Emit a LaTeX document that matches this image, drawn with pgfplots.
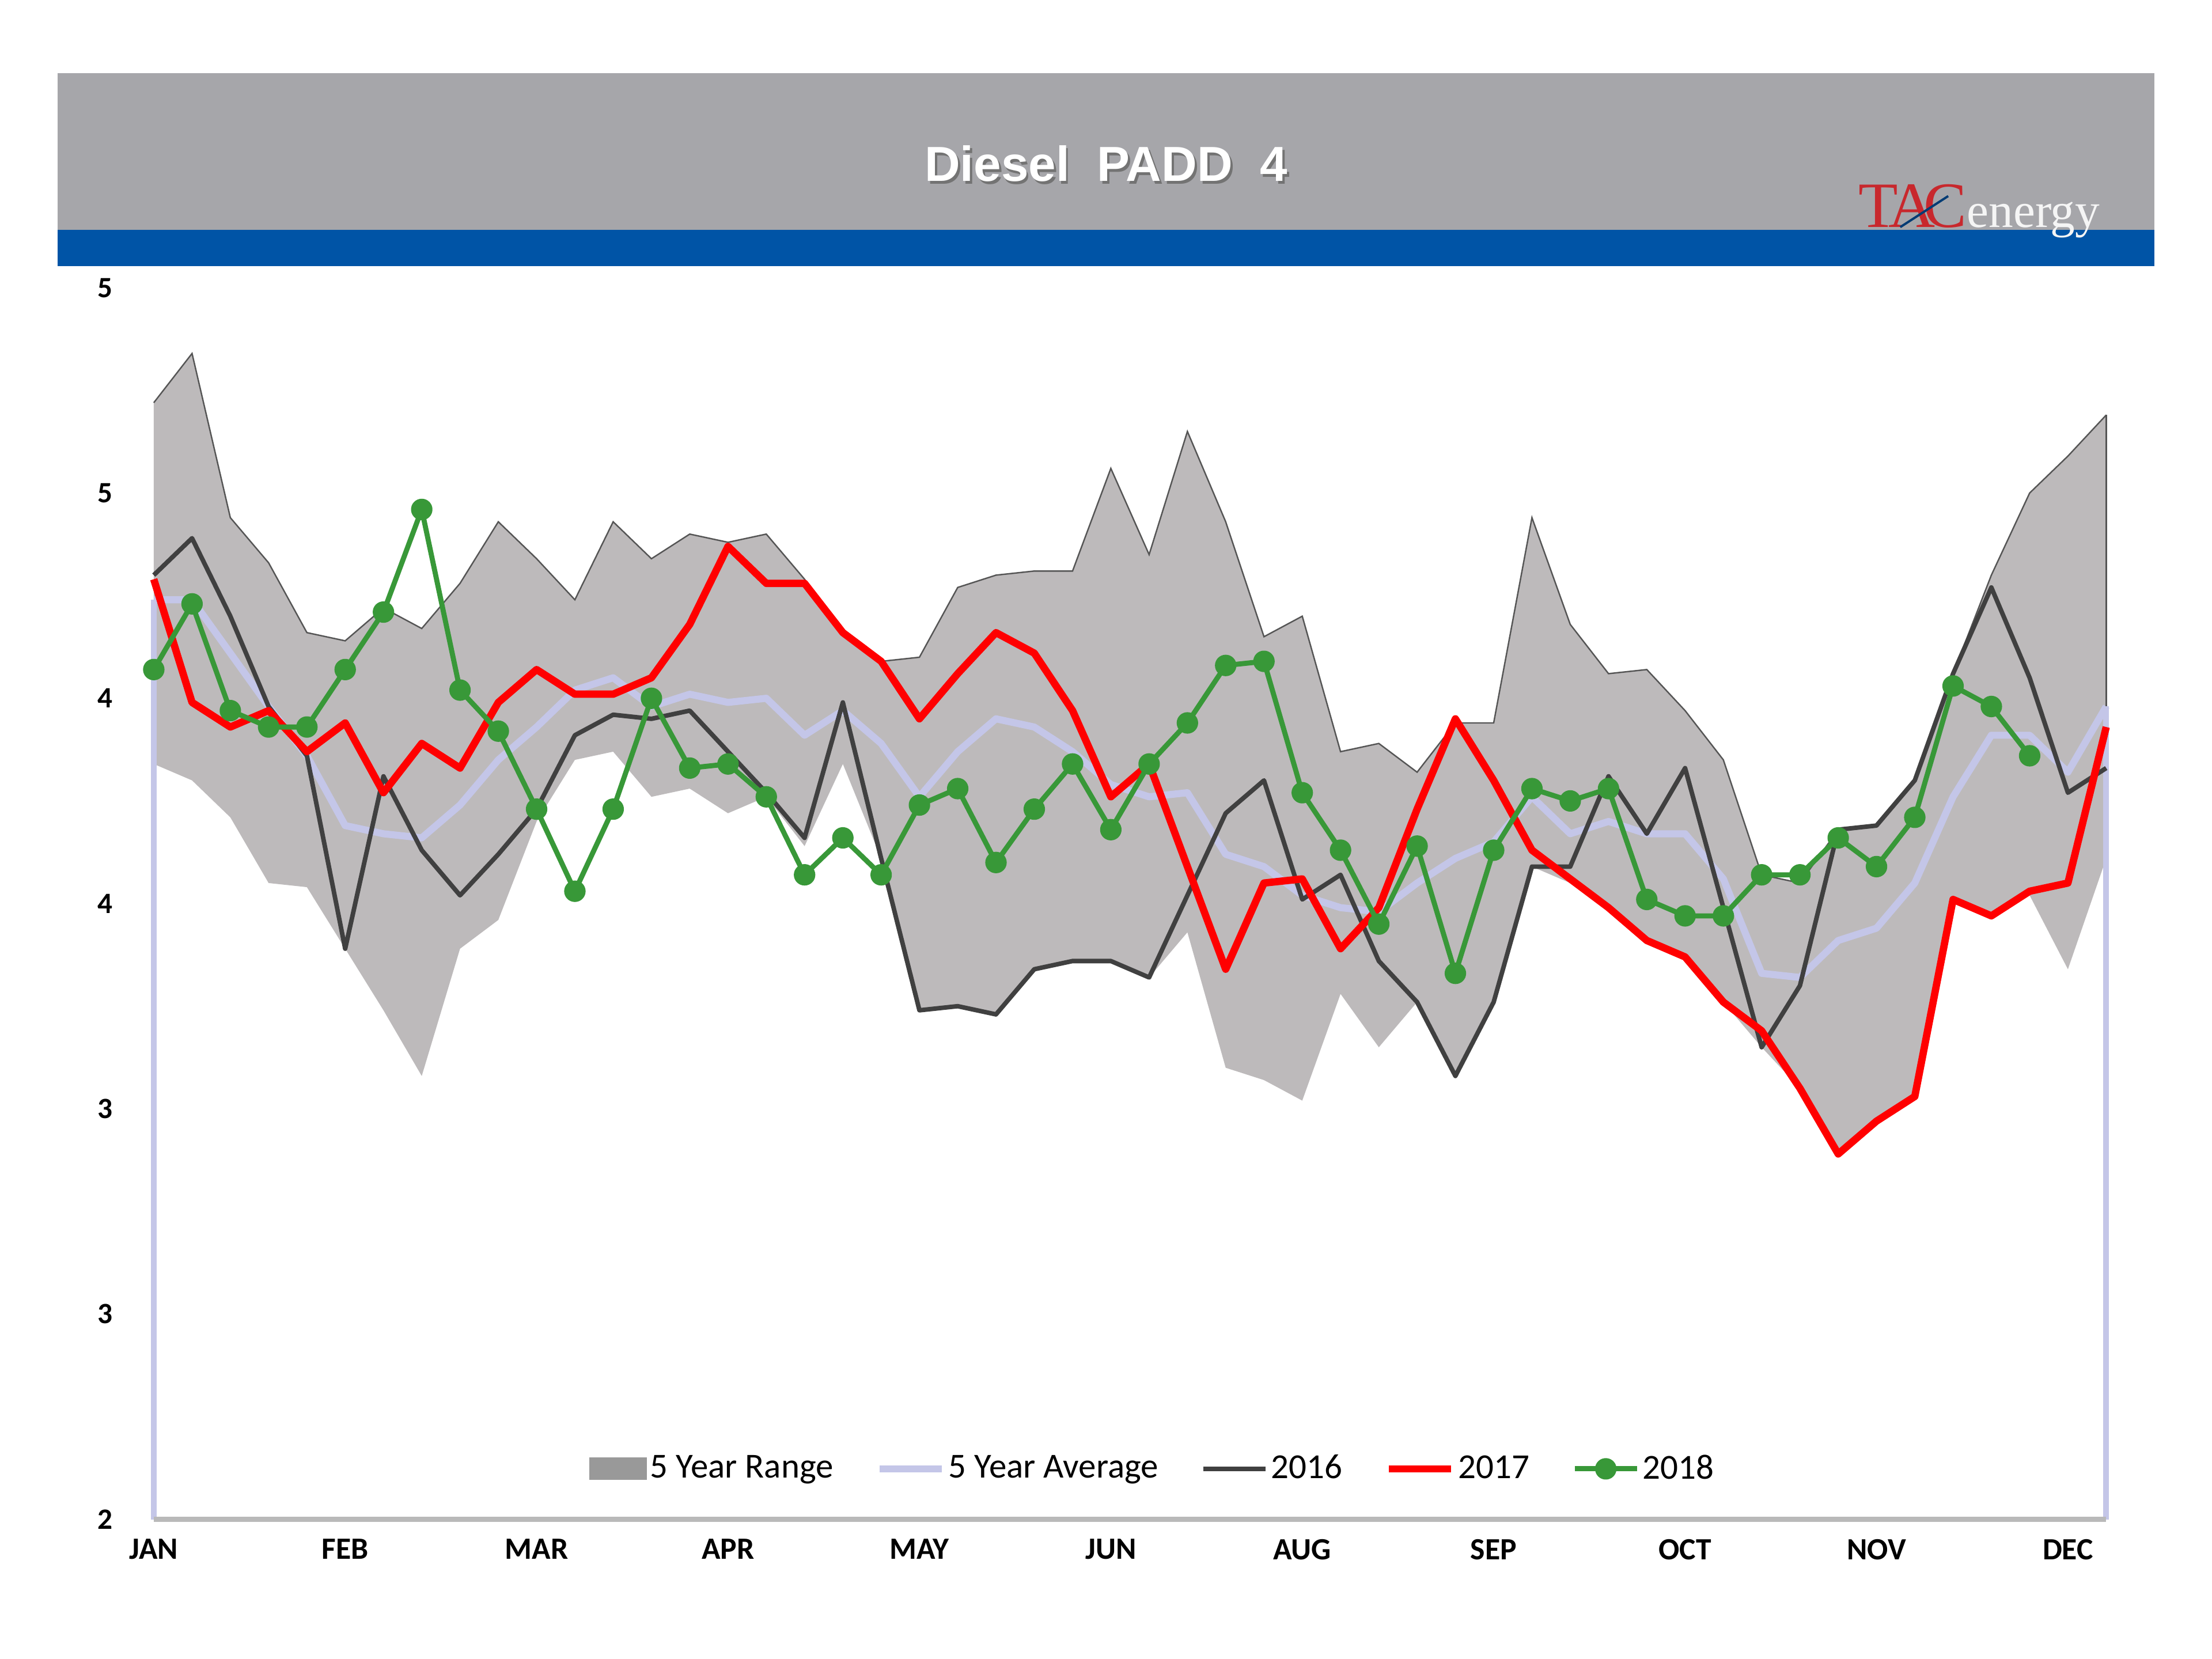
\documentclass[border=0pt]{standalone}
\usepackage{pgfplots}
\pgfplotsset{compat=1.18}
\usepackage{pgfplotstable}
\usepgfplotslibrary{fillbetween}
\usepackage{fontspec}
\setmainfont{Carlito}
\newfontfamily\titlefont{Liberation Sans}
\newfontfamily\logofont{Liberation Serif}
\definecolor{headergray}{RGB}{166,166,170}
\definecolor{tacblue}{RGB}{0,84,166}
\definecolor{bandgray}{RGB}{189,186,187}
\definecolor{bandedge}{RGB}{85,85,85}
\definecolor{avgcol}{RGB}{196,198,232}
\definecolor{c16}{RGB}{64,64,64}
\definecolor{c17}{RGB}{255,0,0}
\definecolor{c18}{RGB}{56,152,56}
\definecolor{tacred}{RGB}{200,40,45}

\pgfplotsset{
  linelegend/.style={legend image code/.code={\draw[##1] (0bp,0bp) -- (22bp,0bp);}},
  rangelegend/.style={legend image code/.code={\fill[gray!55] (0bp,-3.8bp) rectangle (20bp,3.8bp); \draw[white, line width=0.8bp] (1.5bp,-1.5bp) -- (18.5bp,-1.5bp); \draw[gray!80] (0bp,-3.8bp) rectangle (20bp,3.8bp);}},
  marklegend/.style={legend image code/.code={\draw[##1, mark repeat=2, mark phase=2] plot coordinates {(0bp,0bp) (11bp,0bp) (22bp,0bp)};}},
}

\pgfplotstableread{
x up lo avg y16 y17
0 4.72 3.84 4.24 4.30 4.29
1 4.84 3.80 4.24 4.39 3.99
2 4.44 3.71 4.11 4.20 3.93
3 4.33 3.55 3.98 3.98 3.97
4 4.16 3.54 3.86 3.86 3.87
5 4.14 3.39 3.69 3.39 3.94
6 4.22 3.24 3.67 3.81 3.77
7 4.17 3.08 3.66 3.63 3.89
8 4.28 3.39 3.74 3.52 3.83
9 4.43 3.46 3.85 3.62 3.99
10 4.34 3.70 3.93 3.73 4.07
11 4.24 3.85 4.02 3.91 4.01
12 4.43 3.87 4.05 3.96 4.01
13 4.34 3.76 3.98 3.95 4.05
14 4.40 3.78 4.01 3.97 4.18
15 4.38 3.72 3.99 3.87 4.37
16 4.40 3.76 4.00 3.77 4.28
17 4.29 3.64 3.91 3.66 4.28
18 4.16 3.84 3.97 3.99 4.16
19 4.09 3.61 3.89 3.61 4.09
20 4.10 3.24 3.76 3.24 3.95
21 4.27 3.25 3.87 3.25 4.06
22 4.30 3.23 3.95 3.23 4.16
23 4.31 3.34 3.93 3.34 4.11
24 4.31 3.36 3.87 3.36 3.97
25 4.56 3.36 3.79 3.36 3.76
26 4.35 3.32 3.76 3.32 3.84
27 4.65 3.43 3.77 3.52 3.59
28 4.43 3.10 3.62 3.72 3.34
29 4.15 3.07 3.59 3.80 3.55
30 4.20 3.02 3.52 3.51 3.56
31 3.87 3.28 3.49 3.57 3.39
32 3.89 3.15 3.48 3.36 3.49
33 3.82 3.26 3.55 3.26 3.73
34 3.94 3.08 3.61 3.08 3.95
35 3.94 3.26 3.65 3.26 3.80
36 4.44 3.59 3.76 3.59 3.63
37 4.18 3.55 3.67 3.59 3.56
38 4.06 3.49 3.70 3.81 3.49
39 4.07 3.41 3.67 3.67 3.41
40 3.97 3.37 3.67 3.83 3.37
41 3.85 3.26 3.56 3.49 3.26
42 3.57 3.15 3.33 3.15 3.19
43 3.55 3.05 3.32 3.30 3.05
44 3.68 2.89 3.41 3.68 2.89
45 3.69 2.97 3.44 3.69 2.97
46 3.80 3.03 3.55 3.80 3.03
47 4.06 3.51 3.76 4.06 3.51
48 4.30 3.47 3.91 4.27 3.47
49 4.50 3.52 3.91 4.05 3.53
50 4.59 3.34 3.82 3.77 3.55
51 4.69 3.61 3.98 3.83 3.93
}\maintable

\pgfplotstableread{
x y18
0 4.07
1 4.23
2 3.97
3 3.93
4 3.93
5 4.07
6 4.21
7 4.46
8 4.02
9 3.92
10 3.73
11 3.53
12 3.73
13 4.00
14 3.83
15 3.84
16 3.76
17 3.57
18 3.66
19 3.57
20 3.74
21 3.78
22 3.60
23 3.73
24 3.84
25 3.68
26 3.84
27 3.94
28 4.08
29 4.09
30 3.77
31 3.63
32 3.45
33 3.64
34 3.33
35 3.63
36 3.78
37 3.75
38 3.78
39 3.51
40 3.47
41 3.47
42 3.57
43 3.57
44 3.66
45 3.59
46 3.71
47 4.03
48 3.98
49 3.86
}\greentable

\begin{document}
\begin{tikzpicture}
% header
\fill[headergray] (-34bp,457bp) rectangle (709bp,512.5bp);
\fill[tacblue] (-34bp,444.25bp) rectangle (709bp,457bp);
\node[text=black!55, font=\titlefont\bfseries\fontsize{17.5}{20}\selectfont] at (338.3bp,479.4bp) {Diesel\ \ PADD\ \ 4};
\node[text=white, font=\titlefont\bfseries\fontsize{17.5}{20}\selectfont] at (337.5bp,480.5bp) {Diesel\ \ PADD\ \ 4};
\node[inner sep=0pt, anchor=base] at (647bp,458bp) {\logofont{\fontsize{23}{24}\selectfont\color{tacred}T\kern-3.5pt A\kern-4pt C}{\logofont\fontsize{17.5}{18}\selectfont\color{white!92!gray}energy}};
\draw[tacblue!70!black, line width=0.8bp] (619bp,458bp) -- (636bp,469bp);
\begin{axis}[
  scale only axis,
  width=692bp, height=436.5bp,
  xmin=0, xmax=51, ymin=2, ymax=5,
  clip=false,
  axis line style={draw=none},
  major tick length=0pt,
  xtick={0,5,...,50},
  xticklabels={JAN,FEB,MAR,APR,MAY,JUN,AUG,SEP,OCT,NOV,DEC},
  ytick={2,2.5,...,5},
  yticklabels={2,3,3,4,4,5,5},
  xticklabel style={font=\bfseries\fontsize{11}{12}\selectfont, yshift=-3.5bp},
  yticklabel style={font=\bfseries\fontsize{10.5}{12}\selectfont, xshift=-11bp},
  legend columns=-1,
  legend style={at={(0.512,0.041)}, anchor=center, draw=none, fill=none,
    font=\fontsize{12.5}{14}\selectfont,
    nodes={inner sep=1.2bp},
    /tikz/every even column/.append style={column sep=14bp}},
  linelegend,
]
% band
\addplot[draw=none, name path=up, forget plot] table[x=x,y=up]{\maintable};
\addplot[draw=none, name path=lo, forget plot] table[x=x,y=lo]{\maintable};
\addplot[fill=bandgray, draw=none, rangelegend] fill between[of=up and lo];
\addplot[draw=bandedge, line width=0.5bp, forget plot] table[x=x,y=up]{\maintable};
\addplot[draw=bandedge, line width=0.6bp, forget plot] coordinates {(51,3.61) (51,4.69)};
% 5 year average
\addplot[avgcol, line width=2.5bp, line join=round] table[x=x,y=avg]{\maintable};
\addplot[avgcol, line width=2bp, forget plot] coordinates {(0,2) (0,4.24)};
\addplot[avgcol, line width=2bp, forget plot] coordinates {(51,2) (51,3.98)};
% years
\addplot[c16, line width=1.6bp, line join=round] table[x=x,y=y16]{\maintable};
\addplot[c17, line width=2.6bp, line join=round] table[x=x,y=y17]{\maintable};
\addplot[c18, line width=1.8bp, line join=round, mark=*, mark size=2.9bp, mark options={fill=c18, draw=c18}, marklegend]
  table[x=x,y=y18]{\greentable};
\legend{5 Year Range, 5 Year Average, 2016, 2017, 2018}
\draw[gray!55, line width=2bp] (axis cs:0,2) -- (axis cs:51,2);
\end{axis}
\pgfresetboundingbox
\path (-54.5bp,-49.5bp) rectangle (729.5bp,538.5bp);
\end{tikzpicture}
\end{document}
